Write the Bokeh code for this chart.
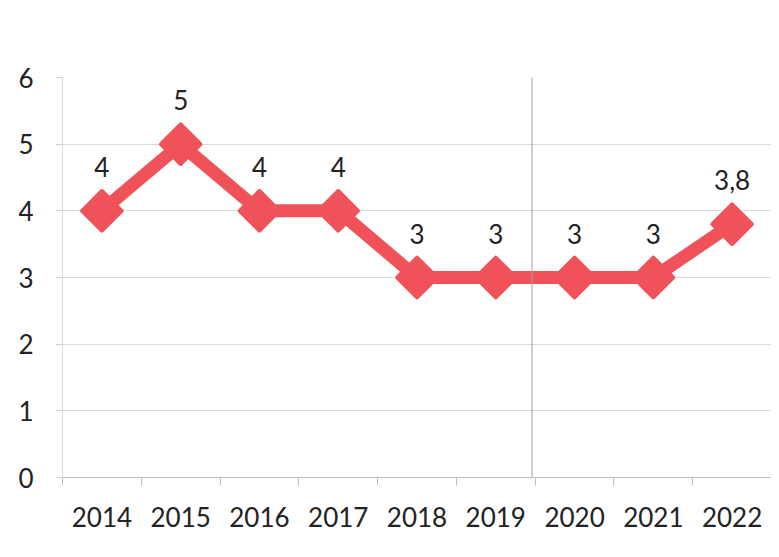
import math
from bokeh.plotting import figure
from bokeh.models import Range1d, FixedTicker, ColumnDataSource, Span
from bokeh.core.properties import value
from bokeh.embed import file_html
from bokeh.resources import INLINE

years = ["2014", "2015", "2016", "2017", "2018", "2019", "2020", "2021", "2022"]
values = [4, 5, 4, 4, 3, 3, 3, 3, 3.8]
value_labels = ["4", "5", "4", "4", "3", "3", "3", "3", "3,8"]
y_ticks = [0, 1, 2, 3, 4, 5, 6]

RED = "#F0525A"
FONT = "Lato"

n = len(years)
xpos = [i + 0.5 for i in range(n)]
src = ColumnDataSource(dict(x=xpos, y=values, lab=value_labels))

p = figure(width=771, height=549, output_backend="svg", toolbar_location=None,
           x_range=Range1d(0, n), y_range=Range1d(0, 6),
           min_border_left=62, min_border_right=0, min_border_top=77, min_border_bottom=72)
p.background_fill_color = "white"
p.border_fill_color = "white"
p.outline_line_color = None

# scan artifact vertical line
p.add_layout(Span(location=5.96, dimension="height", line_color="#a0a0a0", line_width=1))

p.line("x", "y", source=src, line_color=RED, line_width=13)
p.scatter("x", "y", source=src, marker="square", size=28, angle=math.pi / 4,
          fill_color=RED, line_color=RED, line_width=4, line_join="round")
p.text("x", "y", text="lab", source=src, text_font=value(FONT), text_font_size="26px",
       text_color="#222222", text_align="center", text_baseline="middle", y_offset=-44)

# x axis
p.xaxis.ticker = FixedTicker(ticks=xpos, minor_ticks=list(range(n + 1)))
p.xaxis.major_label_overrides = {x: y for x, y in zip(xpos, years)}
p.xaxis.major_tick_out = 0
p.xaxis.major_tick_in = 0
p.xaxis.minor_tick_out = 8
p.xaxis.minor_tick_in = 0
p.xaxis.minor_tick_line_color = "#BFBFBF"
p.xaxis.axis_line_color = "#BFBFBF"
p.xaxis.major_label_standoff = 21
p.xaxis.major_label_text_font = FONT
p.xaxis.major_label_text_font_size = "26px"
p.xaxis.major_label_text_color = "#222222"

# y axis
p.yaxis.ticker = FixedTicker(ticks=y_ticks)
p.yaxis.major_tick_out = 7
p.yaxis.major_tick_in = 0
p.yaxis.minor_tick_line_color = None
p.yaxis.major_tick_line_color = "#D0D0D0"
p.yaxis.axis_line_color = "#D9D9D9"
p.yaxis.major_label_standoff = 22
p.yaxis.major_label_text_font = FONT
p.yaxis.major_label_text_font_size = "26px"
p.yaxis.major_label_text_color = "#222222"

p.xgrid.grid_line_color = None
p.ygrid.ticker = FixedTicker(ticks=y_ticks)
p.ygrid.grid_line_color = "#D9D9D9"
p.ygrid.grid_line_width = 1

open("out.html", "w").write(file_html(p, INLINE))
